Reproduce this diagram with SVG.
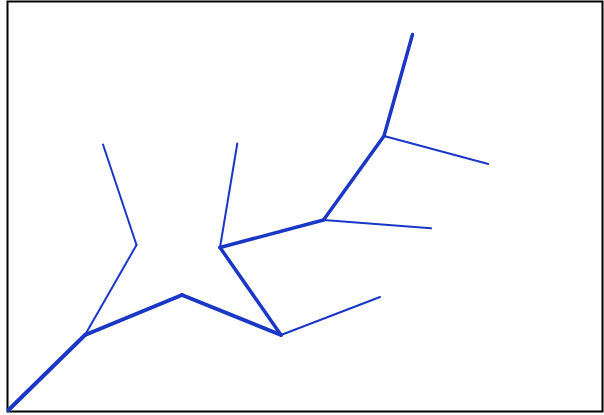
<svg xmlns="http://www.w3.org/2000/svg" width="604" height="415" viewBox="0 0 604 415">
<style>
.thick{stroke:#1a37c6;stroke-width:4;stroke-linecap:round;fill:none}
.mid{stroke:#1a37c6;stroke-width:3.5;stroke-linecap:round;fill:none}
.thin{stroke:#1a37c6;stroke-width:2;stroke-linecap:round;fill:none}
</style>
<rect x="0" y="0" width="604" height="415" fill="#fff"/>
<rect x="7.5" y="1.5" width="595" height="410" fill="none" stroke="#000" stroke-width="2"/>
<g id="connectors" stroke-linejoin="round">
<line class="thick" x1="8.5" y1="410" x2="85" y2="335"/>
<line class="thick" x1="85" y1="335" x2="182" y2="295"/>
<line class="thin" x1="85" y1="335" x2="136.5" y2="245"/>
<line class="thin" x1="136.5" y1="245" x2="103" y2="144.5"/>
<line class="thick" x1="182" y1="295" x2="281" y2="335"/>
<line class="thin" x1="281" y1="335" x2="380" y2="297"/>
<line class="mid" x1="281" y1="335" x2="220" y2="247.5"/>
<line class="thin" x1="220" y1="247.5" x2="237.3" y2="143.5"/>
<line class="mid" x1="220" y1="247.5" x2="323.5" y2="220"/>
<line class="thin" x1="323.5" y1="220" x2="431" y2="228.3"/>
<line class="mid" x1="323.5" y1="220" x2="384" y2="136"/>
<line class="thin" x1="384" y1="136" x2="488.3" y2="164"/>
<line class="mid" x1="384" y1="136" x2="412.5" y2="34.5"/>
</g>
</svg>
